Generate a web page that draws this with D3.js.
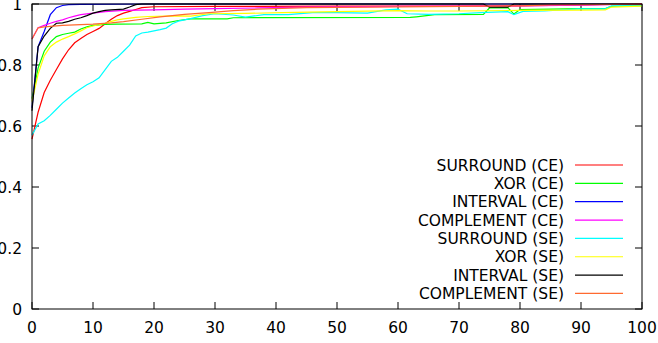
<!DOCTYPE html>
<html>
<head>
<meta charset="utf-8">
<script src="https://cdn.jsdelivr.net/npm/d3@7"></script>
<style>
    html, body { margin: 0; padding: 0; background: #fff; }
    svg { display: block; font-family: "DejaVu Sans", sans-serif; }
</style>
</head>
<body>
<div id="chart"></div>
<script>
// values, [x, y]
var surroundCE = [[0,0.557],[1,0.645],[2,0.71],[3,0.75],[4,0.785],[5,0.82],[6,0.85],[7,0.873],[8,0.887],[9,0.9],[10,0.91],[11,0.92],[12,0.935],[13,0.95],[14,0.962],[15,0.97],[16,0.976],[17,0.982],[18,0.988],[20,0.991],[30,0.992],[50,0.993],[70,0.993],[85,0.995],[90,0.997],[100,1.0]];
var xorCE = [[0,0.69],[1,0.79],[2,0.845],[3,0.875],[4,0.893],[5,0.9],[6,0.904],[7,0.908],[8,0.918],[9,0.925],[10,0.93],[12,0.933],[14,0.934],[18,0.935],[19,0.94],[20,0.935],[22,0.938],[24,0.946],[26,0.951],[32,0.951],[33,0.955],[62,0.956],[63,0.958],[66,0.965],[74,0.966],[75,0.987],[78,0.988],[79,0.967],[80,0.982],[85,0.983],[90,0.985],[94,0.985],[95,0.992],[100,0.995]];
var intervalCE = [[0,0.66],[1,0.86],[2,0.91],[3,0.965],[4,0.988],[5,0.995],[6,0.998],[8,0.999],[20,1.0],[50,1.0],[100,1.0]];
var complementCE = [[0,0.885],[1,0.922],[2,0.93],[3,0.937],[4,0.943],[5,0.948],[6,0.955],[7,0.96],[8,0.965],[10,0.97],[12,0.975],[15,0.979],[20,0.981],[25,0.983],[30,0.985],[37,0.987],[45,0.99],[60,0.992],[80,0.994],[90,0.996],[100,1.0]];
var surroundSE = [[0,0.57],[1,0.607],[2,0.617],[3,0.635],[4,0.655],[5,0.675],[6,0.692],[7,0.708],[8,0.722],[9,0.735],[10,0.745],[11,0.758],[12,0.785],[13,0.812],[14,0.825],[15,0.845],[16,0.865],[17,0.895],[18,0.905],[19,0.908],[20,0.912],[21,0.916],[22,0.921],[23,0.935],[24,0.944],[26,0.952],[28,0.962],[30,0.968],[33,0.964],[35,0.957],[38,0.965],[42,0.965],[46,0.972],[50,0.972],[55,0.97],[58,0.981],[60,0.983],[61.5,0.968],[65,0.966],[70,0.968],[73.5,0.972],[78,0.975],[79,0.965],[80.5,0.976],[84,0.977],[89.5,0.984],[94,0.984],[95,0.994],[100,0.994]];
var xorSE = [[0,0.68],[1,0.77],[2,0.83],[3,0.86],[4,0.875],[5,0.885],[6,0.893],[7,0.902],[8,0.912],[9,0.922],[10,0.928],[11,0.932],[12,0.937],[13,0.943],[14,0.948],[15,0.951],[17,0.956],[19,0.959],[22,0.96],[24,0.961],[26,0.96],[29,0.968],[35,0.969],[41,0.972],[50,0.975],[60,0.978],[65,0.977],[70,0.977],[80,0.979],[90,0.98],[94,0.981],[95,0.99],[100,0.993]];
var intervalSE = [[0,0.65],[1,0.86],[2,0.895],[3,0.92],[4,0.937],[5,0.938],[6,0.943],[7,0.95],[8,0.955],[9,0.962],[10,0.97],[11,0.975],[12,0.979],[13,0.981],[15,0.983],[16,0.99],[17,0.998],[18,1.0],[74,1.0],[75,0.99],[78,0.99],[79,1.0],[100,1.0]];
var complementSE = [[0,0.885],[1,0.922],[2,0.925],[5,0.93],[10,0.934],[13,0.938],[15,0.942],[18,0.95],[21,0.958],[25,0.966],[29,0.972],[33,0.978],[37,0.983],[45,0.988],[55,0.99],[70,0.992],[80,0.994],[85,0.997],[90,0.998],[100,1.0]];

var seriesNames = ['SURROUND (CE)', 'XOR (CE)', 'INTERVAL (CE)', 'COMPLEMENT (CE)',
    'SURROUND (SE)', 'XOR (SE)', 'INTERVAL (SE)', 'COMPLEMENT (SE)'];
var seriesData = [surroundCE, xorCE, intervalCE, complementCE, surroundSE, xorSE, intervalSE, complementSE];
var seriesColors = ['#ff0000', '#00ff00', '#0000ff', '#ff00ff', '#00ffff', '#ffff00', '#000000', '#ff6a30'];

var xTicks = [0, 10, 20, 30, 40, 50, 60, 70, 80, 90, 100];
var yTicks = [0, 0.2, 0.4, 0.6, 0.8, 1];
var yTickLabels = ['0', '0.2', '0.4', '0.6', '0.8', '1'];

var width = 658, height = 343;
var plot = { left: 32, right: 642, top: 4, bottom: 309 };
var tickLen = 7;
var fontSize = '15.5px';
var lineWidth = 1.2;

var x = d3.scaleLinear().domain([0, 100]).range([plot.left, plot.right]);
var y = d3.scaleLinear().domain([0, 1]).range([plot.bottom, plot.top]);

var svg = d3.select('#chart')
    .append('svg')
    .attr('width', width)
    .attr('height', height);

svg.append('rect')
    .attr('width', width)
    .attr('height', height)
    .attr('fill', '#fff');

// ticks, mirrored on all four sides like gnuplot does
var ticks = svg.append('g')
    .attr('stroke', '#000')
    .attr('stroke-width', 1);

ticks.selectAll('.xb')
    .data(xTicks)
    .enter()
    .append('line')
    .attr('x1', function (d) { return x(d); })
    .attr('x2', function (d) { return x(d); })
    .attr('y1', plot.bottom)
    .attr('y2', plot.bottom - tickLen);
ticks.selectAll('.xt')
    .data(xTicks)
    .enter()
    .append('line')
    .attr('x1', function (d) { return x(d); })
    .attr('x2', function (d) { return x(d); })
    .attr('y1', plot.top)
    .attr('y2', plot.top + tickLen);
ticks.selectAll('.yl')
    .data(yTicks)
    .enter()
    .append('line')
    .attr('x1', plot.left)
    .attr('x2', plot.left + tickLen)
    .attr('y1', function (d) { return y(d); })
    .attr('y2', function (d) { return y(d); });
ticks.selectAll('.yr')
    .data(yTicks)
    .enter()
    .append('line')
    .attr('x1', plot.right)
    .attr('x2', plot.right - tickLen)
    .attr('y1', function (d) { return y(d); })
    .attr('y2', function (d) { return y(d); });

svg.append('g')
    .selectAll('text')
    .data(xTicks)
    .enter()
    .append('text')
    .attr('x', function (d) { return x(d); })
    .attr('y', plot.bottom + 24)
    .attr('text-anchor', 'middle')
    .attr('font-size', fontSize)
    .attr('fill', '#000')
    .text(function (d) { return d; });

svg.append('g')
    .selectAll('text')
    .data(yTicks)
    .enter()
    .append('text')
    .attr('x', plot.left - 10)
    .attr('y', function (d) { return y(d); })
    .attr('dy', '0.36em')
    .attr('text-anchor', 'end')
    .attr('font-size', fontSize)
    .attr('fill', '#000')
    .text(function (d, i) { return yTickLabels[i]; });

var line = d3.line()
    .x(function (d) { return x(d[0]); })
    .y(function (d) { return y(d[1]); });

svg.append('g')
    .selectAll('path')
    .data(seriesData)
    .enter()
    .append('path')
    .attr('d', line)
    .attr('fill', 'none')
    .attr('stroke', function (d, i) { return seriesColors[i]; })
    .attr('stroke-width', lineWidth);

svg.append('rect')
    .attr('x', plot.left)
    .attr('y', plot.top)
    .attr('width', plot.right - plot.left)
    .attr('height', plot.bottom - plot.top)
    .attr('fill', 'none')
    .attr('stroke', '#000')
    .attr('stroke-width', 1);

// key, bottom right inside the plot
var key = svg.append('g')
    .selectAll('g')
    .data(seriesNames)
    .enter()
    .append('g')
    .attr('transform', function (d, i) { return 'translate(0,' + (165 + i * 18.35) + ')'; });

key.append('text')
    .attr('x', 564)
    .attr('dy', '0.36em')
    .attr('text-anchor', 'end')
    .attr('font-size', fontSize)
    .attr('fill', '#000')
    .text(function (d) { return d; });

key.append('line')
    .attr('x1', 575)
    .attr('x2', 623)
    .attr('y1', 0)
    .attr('y2', 0)
    .attr('stroke', function (d, i) { return seriesColors[i]; })
    .attr('stroke-width', lineWidth);
</script>
</body>
</html>
